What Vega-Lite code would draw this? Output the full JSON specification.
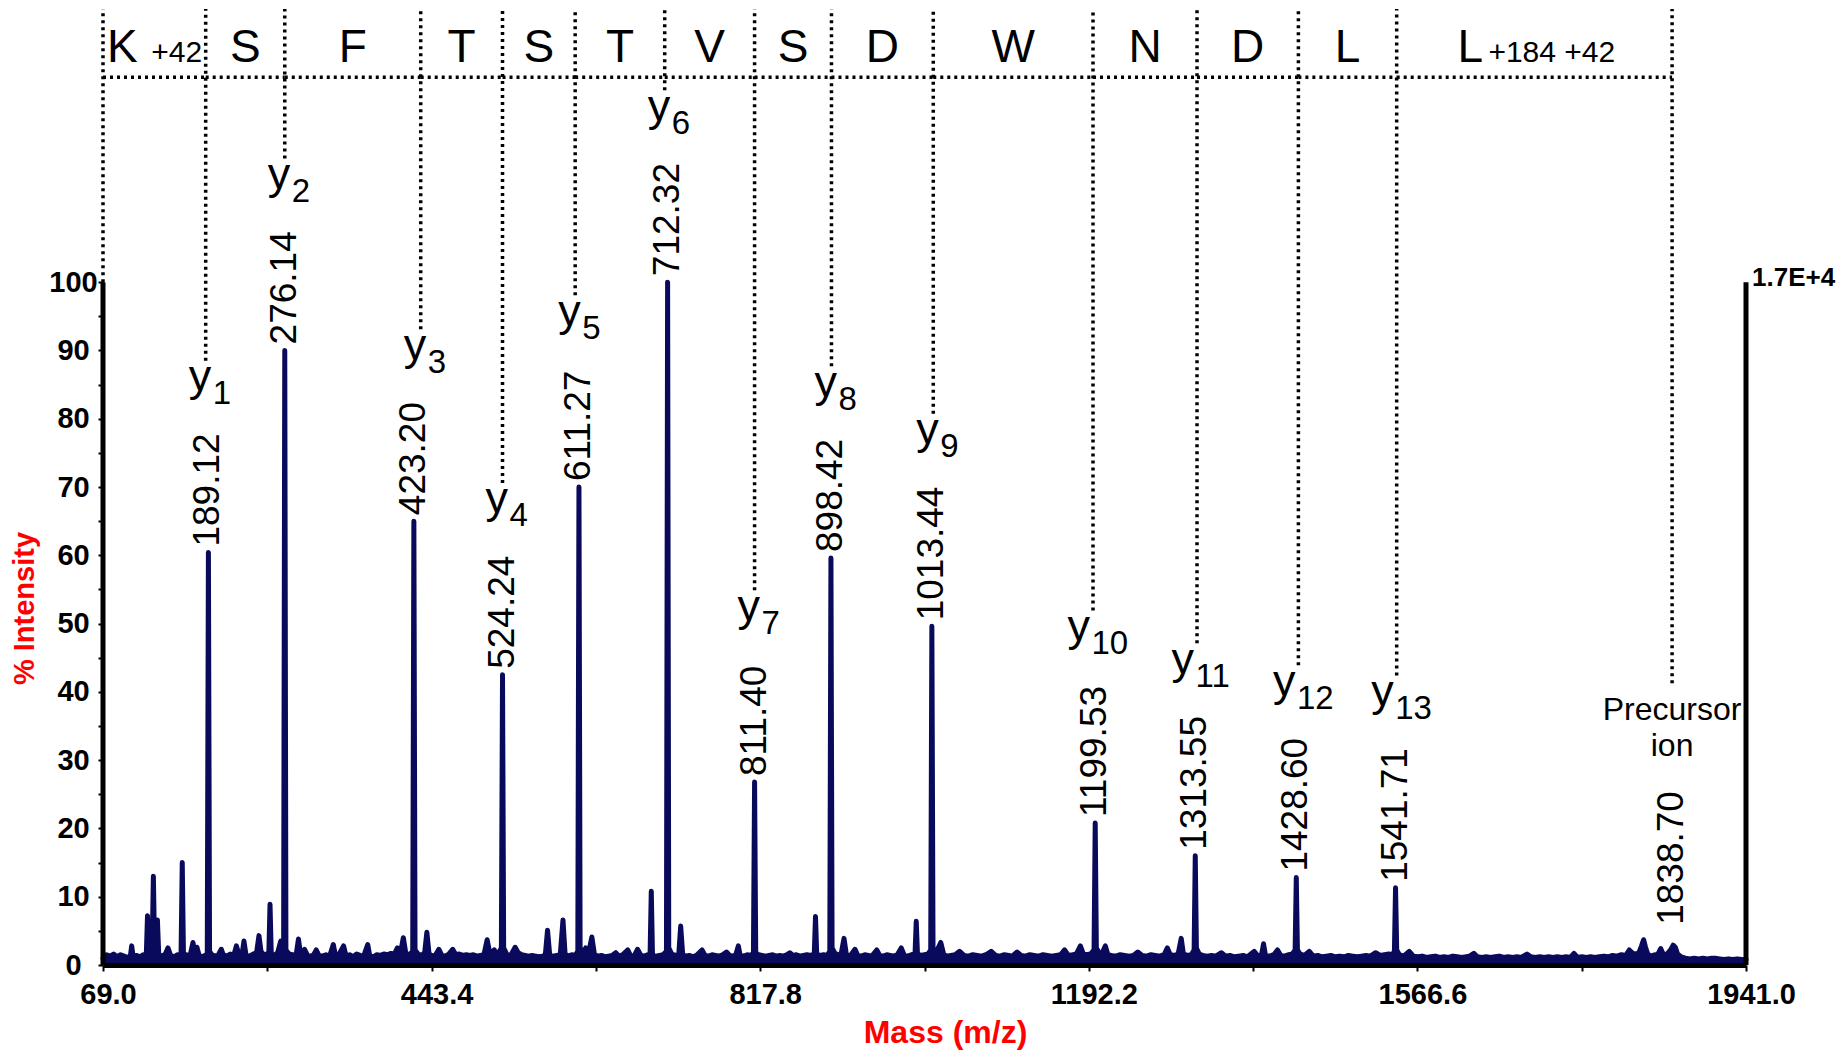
{
  "$schema": "https://vega.github.io/schema/vega-lite/v6.json",
  "width": 1643,
  "height": 956,
  "autosize": "none",
  "padding": {"left": 103, "top": 9, "right": 95, "bottom": 85},
  "background": "white",
  "config": {"view": {"stroke": null}, "font": "Liberation Sans"},
  "datasets": {
    "spec": [
      {"m":69,"i":1.0},{"m":73,"i":1.5},{"m":77,"i":1.3},{"m":81,"i":1.6},{"m":85,"i":1.2},{"m":89,"i":1.5},{"m":93,"i":1.3},{"m":97,"i":1.1},{"m":100.2,"i":1.3},{"m":101.7,"i":2.8},{"m":103.2,"i":1.3},{"m":107,"i":1.4},{"m":111,"i":1.2},{"m":115,"i":1.5},{"m":118.3,"i":1.3},{"m":119.7,"i":7.2},{"m":121.2,"i":1.6},{"m":124.9,"i":1.5},{"m":126.4,"i":13},{"m":127.8,"i":2.2},{"m":129.6,"i":1.9},{"m":131,"i":6.6},{"m":132.5,"i":1.5},{"m":136,"i":1.3},{"m":140,"i":1.6},{"m":143,"i":2.5},{"m":146,"i":1.4},{"m":150,"i":1.2},{"m":154,"i":1.5},{"m":157.9,"i":1.3},{"m":159.3,"i":15},{"m":160.7,"i":1.3},{"m":164,"i":1.5},{"m":168,"i":1.2},{"m":171.5,"i":3.3},{"m":173.8,"i":1.6},{"m":176,"i":2.6},{"m":178.5,"i":1.4},{"m":182,"i":1.2},{"m":185,"i":1.4},{"m":187.8,"i":1.6},{"m":189.1,"i":60.4},{"m":190.4,"i":2.0},{"m":193,"i":1.5},{"m":197,"i":1.3},{"m":200,"i":1.4},{"m":203.8,"i":2.3},{"m":206,"i":1.5},{"m":210,"i":1.3},{"m":214,"i":1.6},{"m":218,"i":1.4},{"m":221,"i":2.8},{"m":224,"i":1.5},{"m":227.5,"i":1.6},{"m":229.6,"i":3.5},{"m":232,"i":1.4},{"m":236,"i":1.3},{"m":240,"i":1.6},{"m":244,"i":1.8},{"m":246.7,"i":4.3},{"m":249,"i":2.0},{"m":252,"i":1.5},{"m":255,"i":1.6},{"m":257.9,"i":1.5},{"m":259.3,"i":8.9},{"m":260.7,"i":1.7},{"m":264,"i":1.4},{"m":268,"i":1.8},{"m":271.5,"i":3.5},{"m":273.5,"i":2.0},{"m":274.8,"i":2.2},{"m":276.1,"i":90},{"m":277.4,"i":2.2},{"m":281,"i":1.6},{"m":285,"i":1.5},{"m":289,"i":1.4},{"m":291.7,"i":3.8},{"m":294,"i":1.6},{"m":298.6,"i":2.3},{"m":302,"i":1.4},{"m":306,"i":1.3},{"m":309,"i":1.5},{"m":312,"i":2.2},{"m":315,"i":1.4},{"m":319,"i":1.3},{"m":323,"i":1.5},{"m":327,"i":1.2},{"m":331.4,"i":3.0},{"m":334,"i":1.3},{"m":338,"i":1.6},{"m":343.1,"i":2.8},{"m":346,"i":1.3},{"m":350,"i":1.5},{"m":354,"i":1.2},{"m":358,"i":1.6},{"m":362,"i":1.4},{"m":366,"i":1.3},{"m":370.6,"i":3.0},{"m":373,"i":1.3},{"m":377,"i":1.2},{"m":381,"i":1.5},{"m":385,"i":1.4},{"m":389,"i":1.6},{"m":393,"i":1.5},{"m":397,"i":1.7},{"m":401,"i":1.6},{"m":404.4,"i":2.5},{"m":408,"i":1.8},{"m":411.2,"i":4.0},{"m":414,"i":1.7},{"m":418,"i":1.5},{"m":421.9,"i":2.0},{"m":423.2,"i":65},{"m":424.5,"i":2.2},{"m":428,"i":1.6},{"m":432,"i":1.4},{"m":435.5,"i":1.8},{"m":438,"i":4.8},{"m":440.5,"i":1.6},{"m":445,"i":1.3},{"m":448,"i":1.5},{"m":451.7,"i":2.3},{"m":455,"i":1.4},{"m":459,"i":1.3},{"m":463,"i":1.6},{"m":467.4,"i":2.3},{"m":471,"i":1.5},{"m":475,"i":1.6},{"m":479,"i":1.4},{"m":483,"i":1.5},{"m":487,"i":1.4},{"m":491,"i":1.5},{"m":495,"i":1.3},{"m":499,"i":1.4},{"m":503,"i":1.5},{"m":506.7,"i":3.7},{"m":510,"i":1.5},{"m":514.8,"i":2.2},{"m":518,"i":1.4},{"m":522.9,"i":2.5},{"m":524.2,"i":42.5},{"m":525.5,"i":2.5},{"m":529,"i":1.6},{"m":533,"i":1.3},{"m":538.6,"i":2.6},{"m":542,"i":1.8},{"m":546,"i":1.5},{"m":550,"i":1.4},{"m":554,"i":1.3},{"m":558,"i":1.4},{"m":562,"i":1.3},{"m":566,"i":1.2},{"m":570,"i":1.3},{"m":573,"i":1.5},{"m":575.5,"i":5.1},{"m":578,"i":1.4},{"m":582,"i":1.3},{"m":586,"i":1.4},{"m":590,"i":1.5},{"m":593.1,"i":6.6},{"m":595.5,"i":1.6},{"m":599,"i":1.3},{"m":603,"i":1.5},{"m":607,"i":1.4},{"m":610,"i":2.0},{"m":611.3,"i":70},{"m":612.6,"i":2.5},{"m":616,"i":1.8},{"m":619,"i":2.5},{"m":622,"i":1.6},{"m":626,"i":4.1},{"m":629,"i":1.5},{"m":633,"i":1.3},{"m":637,"i":1.4},{"m":641,"i":1.2},{"m":645,"i":1.3},{"m":649,"i":1.4},{"m":653.2,"i":1.8},{"m":657,"i":1.3},{"m":661,"i":1.5},{"m":666.8,"i":2.2},{"m":670,"i":1.4},{"m":674,"i":1.3},{"m":678,"i":2.3},{"m":682,"i":1.4},{"m":686,"i":1.3},{"m":689.5,"i":1.5},{"m":692.3,"i":1.4},{"m":693.7,"i":10.8},{"m":695.1,"i":1.4},{"m":699,"i":1.3},{"m":703,"i":1.4},{"m":707,"i":1.5},{"m":711,"i":2.0},{"m":712.3,"i":100},{"m":713.6,"i":2.5},{"m":717,"i":1.6},{"m":721,"i":1.4},{"m":725,"i":1.5},{"m":727.2,"i":5.7},{"m":729.5,"i":1.5},{"m":733,"i":1.3},{"m":737,"i":1.4},{"m":741,"i":1.2},{"m":745,"i":1.4},{"m":751.5,"i":2.2},{"m":755,"i":1.4},{"m":759,"i":1.3},{"m":763,"i":1.5},{"m":767,"i":1.4},{"m":771,"i":1.3},{"m":775,"i":1.5},{"m":779.4,"i":1.9},{"m":783,"i":1.4},{"m":787,"i":1.3},{"m":790,"i":1.5},{"m":792.9,"i":2.8},{"m":795,"i":1.4},{"m":799,"i":1.3},{"m":803,"i":1.5},{"m":807,"i":1.4},{"m":810.1,"i":1.8},{"m":811.4,"i":26.8},{"m":812.7,"i":1.8},{"m":816,"i":1.5},{"m":820,"i":1.4},{"m":824,"i":1.3},{"m":828,"i":1.4},{"m":832,"i":1.5},{"m":836,"i":1.3},{"m":840,"i":1.4},{"m":844,"i":1.3},{"m":848,"i":1.5},{"m":851.5,"i":1.8},{"m":855,"i":1.4},{"m":859,"i":1.5},{"m":863,"i":1.3},{"m":867,"i":1.4},{"m":871,"i":1.5},{"m":875,"i":1.4},{"m":879.4,"i":1.6},{"m":880.8,"i":7.1},{"m":882.2,"i":1.6},{"m":886,"i":1.4},{"m":890,"i":1.5},{"m":894,"i":1.4},{"m":897.1,"i":2.0},{"m":898.4,"i":59.6},{"m":899.7,"i":2.5},{"m":903,"i":1.7},{"m":907,"i":1.5},{"m":910,"i":1.6},{"m":913.3,"i":3.9},{"m":916,"i":1.5},{"m":920,"i":1.3},{"m":925.8,"i":2.3},{"m":929,"i":1.4},{"m":933,"i":1.3},{"m":937,"i":1.5},{"m":941,"i":1.4},{"m":945,"i":1.3},{"m":950.6,"i":2.2},{"m":954,"i":1.4},{"m":958,"i":1.3},{"m":962,"i":1.5},{"m":966,"i":1.4},{"m":970,"i":1.3},{"m":974,"i":1.5},{"m":978.5,"i":2.5},{"m":982,"i":1.4},{"m":986,"i":1.3},{"m":990,"i":1.5},{"m":994.2,"i":1.6},{"m":995.6,"i":6.4},{"m":997,"i":1.6},{"m":1001,"i":1.4},{"m":1005,"i":1.5},{"m":1009,"i":1.6},{"m":1012.1,"i":2.2},{"m":1013.4,"i":49.6},{"m":1014.7,"i":2.5},{"m":1018,"i":1.8},{"m":1023.5,"i":3.3},{"m":1027,"i":1.5},{"m":1031,"i":1.3},{"m":1035,"i":1.4},{"m":1040,"i":1.5},{"m":1045,"i":2.0},{"m":1050,"i":1.4},{"m":1055,"i":1.3},{"m":1060,"i":1.5},{"m":1065,"i":1.4},{"m":1070,"i":1.3},{"m":1075,"i":1.5},{"m":1081,"i":2.0},{"m":1086,"i":1.4},{"m":1091,"i":1.3},{"m":1096,"i":1.5},{"m":1101,"i":1.4},{"m":1105,"i":1.3},{"m":1110.6,"i":1.9},{"m":1115,"i":1.4},{"m":1120,"i":1.3},{"m":1125,"i":1.5},{"m":1130,"i":1.4},{"m":1135,"i":1.3},{"m":1140,"i":1.5},{"m":1145,"i":1.4},{"m":1150,"i":1.3},{"m":1155,"i":1.4},{"m":1160,"i":1.5},{"m":1164.6,"i":2.2},{"m":1169,"i":1.4},{"m":1174,"i":1.5},{"m":1178,"i":1.6},{"m":1182.6,"i":2.8},{"m":1186,"i":1.6},{"m":1190,"i":1.5},{"m":1194,"i":1.6},{"m":1198.2,"i":2.2},{"m":1199.5,"i":20.8},{"m":1200.8,"i":2.5},{"m":1204,"i":1.8},{"m":1207,"i":1.6},{"m":1211,"i":2.8},{"m":1214,"i":1.5},{"m":1218,"i":1.4},{"m":1223,"i":1.3},{"m":1228,"i":1.5},{"m":1233,"i":1.4},{"m":1238,"i":1.3},{"m":1243,"i":1.4},{"m":1248,"i":1.9},{"m":1253,"i":1.4},{"m":1258,"i":1.3},{"m":1263,"i":1.5},{"m":1268,"i":1.4},{"m":1273,"i":1.3},{"m":1278,"i":1.5},{"m":1281.7,"i":2.5},{"m":1285,"i":1.5},{"m":1290,"i":1.4},{"m":1294,"i":1.6},{"m":1297.5,"i":3.9},{"m":1300,"i":1.6},{"m":1305,"i":1.4},{"m":1309,"i":1.5},{"m":1312.2,"i":2.2},{"m":1313.5,"i":16},{"m":1314.8,"i":2.5},{"m":1318,"i":1.6},{"m":1322,"i":1.4},{"m":1327,"i":1.3},{"m":1332,"i":1.4},{"m":1337,"i":1.3},{"m":1343.3,"i":1.8},{"m":1348,"i":1.3},{"m":1353,"i":1.4},{"m":1358,"i":1.2},{"m":1363,"i":1.3},{"m":1368,"i":1.4},{"m":1373,"i":1.2},{"m":1380.6,"i":2.0},{"m":1385,"i":1.3},{"m":1389,"i":1.5},{"m":1391.3,"i":3.1},{"m":1393.5,"i":1.4},{"m":1398,"i":1.3},{"m":1403,"i":1.5},{"m":1407.2,"i":2.2},{"m":1411,"i":1.4},{"m":1415,"i":1.3},{"m":1420,"i":1.5},{"m":1424,"i":1.6},{"m":1427.3,"i":2.2},{"m":1428.6,"i":12.8},{"m":1429.9,"i":2.2},{"m":1433,"i":1.6},{"m":1438,"i":1.4},{"m":1443.4,"i":2.0},{"m":1448,"i":1.3},{"m":1453,"i":1.4},{"m":1458,"i":1.2},{"m":1463,"i":1.3},{"m":1468,"i":1.4},{"m":1473,"i":1.2},{"m":1478,"i":1.3},{"m":1483,"i":1.2},{"m":1488,"i":1.4},{"m":1493,"i":1.3},{"m":1498,"i":1.2},{"m":1503,"i":1.3},{"m":1508,"i":1.4},{"m":1513,"i":1.3},{"m":1519,"i":1.8},{"m":1524,"i":1.4},{"m":1529,"i":1.5},{"m":1534,"i":1.6},{"m":1538,"i":1.5},{"m":1540.4,"i":2.0},{"m":1541.7,"i":11.3},{"m":1543,"i":2.2},{"m":1546,"i":1.5},{"m":1551,"i":1.3},{"m":1557.3,"i":2.0},{"m":1562,"i":1.3},{"m":1567,"i":1.2},{"m":1572,"i":1.3},{"m":1577,"i":1.1},{"m":1582,"i":1.2},{"m":1587,"i":1.3},{"m":1592,"i":1.1},{"m":1597,"i":1.2},{"m":1602,"i":1.1},{"m":1607,"i":1.3},{"m":1612,"i":1.2},{"m":1617,"i":1.1},{"m":1622,"i":1.2},{"m":1626,"i":1.3},{"m":1630.9,"i":1.7},{"m":1635,"i":1.2},{"m":1640,"i":1.1},{"m":1645,"i":1.2},{"m":1650,"i":1.1},{"m":1655,"i":1.2},{"m":1660,"i":1.3},{"m":1665,"i":1.1},{"m":1670,"i":1.2},{"m":1675,"i":1.1},{"m":1680,"i":1.2},{"m":1685,"i":1.1},{"m":1691.4,"i":1.6},{"m":1696,"i":1.2},{"m":1701,"i":1.1},{"m":1706,"i":1.2},{"m":1711,"i":1.1},{"m":1716,"i":1.2},{"m":1721,"i":1.1},{"m":1726,"i":1.2},{"m":1731,"i":1.1},{"m":1736,"i":1.2},{"m":1741,"i":1.1},{"m":1745,"i":1.7},{"m":1749,"i":1.1},{"m":1754,"i":1.2},{"m":1759,"i":1.1},{"m":1764,"i":1.2},{"m":1769,"i":1.1},{"m":1774,"i":1.2},{"m":1779,"i":1.3},{"m":1784,"i":1.2},{"m":1789,"i":1.4},{"m":1794,"i":1.3},{"m":1799,"i":1.5},{"m":1804,"i":1.4},{"m":1808,"i":2.2},{"m":1812,"i":1.7},{"m":1816,"i":1.6},{"m":1819,"i":1.8},{"m":1822,"i":2.8},{"m":1824.3,"i":3.7},{"m":1826.5,"i":2.6},{"m":1829,"i":1.6},{"m":1833,"i":1.3},{"m":1837,"i":1.5},{"m":1840,"i":1.4},{"m":1843.8,"i":2.4},{"m":1847,"i":1.5},{"m":1851,"i":1.6},{"m":1855,"i":2.2},{"m":1858,"i":2.9},{"m":1860.5,"i":2.6},{"m":1863,"i":1.6},{"m":1867,"i":1.2},{"m":1872,"i":1.0},{"m":1877,"i":0.9},{"m":1882,"i":1.0},{"m":1887,"i":0.9},{"m":1892,"i":1.0},{"m":1897,"i":0.9},{"m":1902,"i":1.0},{"m":1906,"i":1.0},{"m":1911,"i":0.9},{"m":1916,"i":0.8},{"m":1921,"i":0.9},{"m":1926,"i":0.8},{"m":1931,"i":0.9},{"m":1936,"i":0.8},{"m":1941,"i":0.8}
    ],
    "ions": [
      {"ion":"1","type":"y","cut":186,"m":189.12,"i":60.4,"label":"189.12","res":"K","mod":"+42"},
      {"ion":"2","type":"y","cut":276.1,"m":276.14,"i":90,"label":"276.14","res":"S"},
      {"ion":"3","type":"y","cut":431,"m":423.2,"i":65,"label":"423.20","res":"F"},
      {"ion":"4","type":"y","cut":524.2,"m":524.24,"i":42.5,"label":"524.24","res":"T"},
      {"ion":"5","type":"y","cut":607,"m":611.27,"i":70,"label":"611.27","res":"S"},
      {"ion":"6","type":"y","cut":709,"m":712.32,"i":100,"label":"712.32","res":"T"},
      {"ion":"7","type":"y","cut":811.4,"m":811.4,"i":26.8,"label":"811.40","res":"V"},
      {"ion":"8","type":"y","cut":899,"m":898.42,"i":59.6,"label":"898.42","res":"S"},
      {"ion":"9","type":"y","cut":1015,"m":1013.44,"i":49.6,"label":"1013.44","res":"D"},
      {"ion":"10","type":"y","cut":1197,"m":1199.53,"i":20.8,"label":"1199.53","res":"W"},
      {"ion":"11","type":"y","cut":1315.5,"m":1313.55,"i":16,"label":"1313.55","res":"N"},
      {"ion":"12","type":"y","cut":1431,"m":1428.6,"i":12.8,"label":"1428.60","res":"D"},
      {"ion":"13","type":"y","cut":1543,"m":1541.71,"i":11.3,"label":"1541.71","res":"L"},
      {"ion":"","type":"p","cut":1856.8,"m":1856.8,"i":5,"label":"1838.70","res":"L","mod":"+184 +42","l1":"Precursor","l2":"ion"}
    ]
  },
  "layer": [
    {
      "data": {"name": "spec"},
      "mark": {"type": "area", "color": "#0a0a5c", "opacity": 1, "line": {"color": "#0a0a5c", "strokeWidth": 5, "strokeJoin": "round", "strokeCap": "round"}},
      "encoding": {
        "x": {
          "field": "m", "type": "quantitative",
          "scale": {"domain": [69, 1941], "nice": false, "zero": false},
          "axis": {
            "values": [69, 256.2, 443.4, 630.6, 817.8, 1005, 1192.2, 1379.4, 1566.6, 1753.8, 1941],
            "labelExpr": "indexof([69, 443.4, 817.8, 1192.2, 1566.6, 1941], datum.value) >= 0 ? format(datum.value, '.1f') : ''",
            "domainColor": "black", "domainWidth": 5,
            "tickColor": "black", "tickWidth": 2, "tickSize": 6,
            "labelFont": "Liberation Sans", "labelFontWeight": "bold", "labelFontSize": 29, "labelColor": "black",
            "labelPadding": 9, "labelFlush": false, "labelOverlap": false, "labelBound": false, "labelOffset": 5,
            "grid": false, "zindex": 1,
            "title": "Mass (m/z)", "titleFont": "Liberation Sans", "titleFontSize": 32, "titleFontWeight": "bold", "titleColor": "#ff0000",
            "titleX": 842, "titleY": 77, "titleBaseline": "alphabetic", "titleAlign": "center"
          }
        },
        "y": {
          "field": "i", "type": "quantitative",
          "scale": {"domain": [0, 140], "nice": false, "zero": true},
          "axis": {
            "values": [0, 5, 10, 15, 20, 25, 30, 35, 40, 45, 50, 55, 60, 65, 70, 75, 80, 85, 90, 95, 100],
            "labelExpr": "datum.value % 10 == 0 ? datum.label : ''",
            "domain": false,
            "tickColor": "black", "tickWidth": 2, "tickSize": 5,
            "labelFont": "Liberation Sans", "labelFontWeight": "bold", "labelFontSize": 29, "labelColor": "black",
            "labelAlign": "center", "labelPadding": 25, "labelFlush": false, "labelOverlap": false, "labelBound": false,
            "grid": false, "zindex": 1,
            "title": "% Intensity", "titleFont": "Liberation Sans", "titleFontSize": 29, "titleFontWeight": "bold", "titleColor": "#ff0000",
            "titleX": -79, "titleY": 599, "titleAngle": 270, "titleBaseline": "middle", "titleAlign": "center"
          }
        }
      }
    },
    {
      "data": {"name": "ions"},
      "transform": [
        {"window": [{"op": "lag", "field": "cut", "as": "prev"}], "sort": [{"field": "cut", "order": "ascending"}]},
        {"calculate": "datum.prev == null ? 69 : datum.prev", "as": "lo"},
        {"calculate": "(datum.lo + datum.cut) / 2", "as": "mid"},
        {"calculate": "datum.i + (6 + (0.556 * (length(datum.label) - 1) + 0.278) * 37) / 6.829", "as": "top"},
        {"calculate": "datum.top + (datum.type == 'p' ? 5.1 : 6.2)", "as": "base"},
        {"calculate": "datum.base + (datum.type == 'p' ? 10.7 : 4.45)", "as": "end"},
        {"calculate": "datum.cut + (length(datum.ion) == 1 ? 5.5 : -3) / 0.8777", "as": "yx"}
      ],
      "layer": [
        {
          "mark": {"type": "rule", "color": "black", "strokeWidth": 3.5, "strokeDash": [3, 4]},
          "encoding": {
            "x": {"field": "cut", "type": "quantitative"},
            "y": {"field": "end", "type": "quantitative"},
            "y2": {"datum": 140}
          }
        },
        {
          "mark": {"type": "rule", "color": "black", "strokeWidth": 3.5, "strokeDash": [3, 4]},
          "encoding": {
            "x": {"field": "lo", "type": "quantitative"},
            "x2": {"field": "cut"},
            "y": {"datum": 130, "type": "quantitative"}
          }
        },
        {
          "mark": {"type": "text", "angle": 270, "align": "left", "baseline": "middle", "dx": 6, "fontSize": 37, "font": "Liberation Sans", "color": "black"},
          "encoding": {
            "x": {"field": "m", "type": "quantitative"},
            "y": {"field": "i", "type": "quantitative"},
            "text": {"field": "label"}
          }
        },
        {
          "transform": [{"filter": "datum.type == 'y'"}],
          "mark": {"type": "text", "text": "y", "align": "right", "baseline": "alphabetic", "fontSize": 45, "font": "Liberation Sans", "color": "black"},
          "encoding": {
            "x": {"field": "yx", "type": "quantitative"},
            "y": {"field": "base", "type": "quantitative"}
          }
        },
        {
          "transform": [{"filter": "datum.type == 'y'"}],
          "mark": {"type": "text", "align": "left", "baseline": "alphabetic", "dx": 1.5, "dy": 13, "fontSize": 33, "font": "Liberation Sans", "color": "black"},
          "encoding": {
            "x": {"field": "yx", "type": "quantitative"},
            "y": {"field": "base", "type": "quantitative"},
            "text": {"field": "ion"}
          }
        },
        {
          "transform": [{"filter": "datum.type == 'p'"}],
          "mark": {"type": "text", "align": "center", "baseline": "alphabetic", "dy": -36, "fontSize": 32, "font": "Liberation Sans", "color": "black"},
          "encoding": {
            "x": {"field": "cut", "type": "quantitative"},
            "y": {"field": "base", "type": "quantitative"},
            "text": {"field": "l1"}
          }
        },
        {
          "transform": [{"filter": "datum.type == 'p'"}],
          "mark": {"type": "text", "align": "center", "baseline": "alphabetic", "fontSize": 32, "font": "Liberation Sans", "color": "black"},
          "encoding": {
            "x": {"field": "cut", "type": "quantitative"},
            "y": {"field": "base", "type": "quantitative"},
            "text": {"field": "l2"}
          }
        },
        {
          "transform": [{"filter": "!datum.mod"}],
          "mark": {"type": "text", "align": "center", "baseline": "alphabetic", "fontSize": 46, "font": "Liberation Sans", "color": "black"},
          "encoding": {
            "x": {"field": "mid", "type": "quantitative"},
            "y": {"datum": 132.2, "type": "quantitative"},
            "text": {"field": "res"}
          }
        },
        {
          "transform": [{"filter": "datum.ion == '1'"}],
          "mark": {"type": "text", "align": "center", "baseline": "alphabetic", "dx": -32, "fontSize": 46, "font": "Liberation Sans", "color": "black"},
          "encoding": {
            "x": {"field": "mid", "type": "quantitative"},
            "y": {"datum": 132.2, "type": "quantitative"},
            "text": {"field": "res"}
          }
        },
        {
          "transform": [{"filter": "datum.ion == '1'"}],
          "mark": {"type": "text", "align": "left", "baseline": "alphabetic", "dx": -3, "fontSize": 30, "font": "Liberation Sans", "color": "black"},
          "encoding": {
            "x": {"field": "mid", "type": "quantitative"},
            "y": {"datum": 132.2, "type": "quantitative"},
            "text": {"field": "mod"}
          }
        },
        {
          "transform": [{"filter": "datum.type == 'p'"}],
          "mark": {"type": "text", "align": "center", "baseline": "alphabetic", "dx": -64, "fontSize": 46, "font": "Liberation Sans", "color": "black"},
          "encoding": {
            "x": {"field": "mid", "type": "quantitative"},
            "y": {"datum": 132.2, "type": "quantitative"},
            "text": {"field": "res"}
          }
        },
        {
          "transform": [{"filter": "datum.type == 'p'"}],
          "mark": {"type": "text", "align": "left", "baseline": "alphabetic", "dx": -46, "fontSize": 30, "font": "Liberation Sans", "color": "black"},
          "encoding": {
            "x": {"field": "mid", "type": "quantitative"},
            "y": {"datum": 132.2, "type": "quantitative"},
            "text": {"field": "mod"}
          }
        }
      ]
    },
    {
      "data": {"values": [{}]},
      "layer": [
        {
          "mark": {"type": "rule", "color": "black", "strokeWidth": 5},
          "encoding": {
            "x": {"datum": 69, "type": "quantitative"},
            "y": {"datum": 0, "type": "quantitative"},
            "y2": {"datum": 100}
          }
        },
        {
          "mark": {"type": "rule", "color": "black", "strokeWidth": 5},
          "encoding": {
            "x": {"datum": 1941, "type": "quantitative"},
            "y": {"datum": 0, "type": "quantitative"},
            "y2": {"datum": 100}
          }
        },
        {
          "mark": {"type": "rule", "color": "black", "strokeWidth": 3.5, "strokeDash": [3, 4]},
          "encoding": {
            "x": {"datum": 69, "type": "quantitative"},
            "y": {"datum": 100, "type": "quantitative"},
            "y2": {"datum": 140}
          }
        },
        {
          "mark": {"type": "text", "text": "1.7E+4", "align": "left", "baseline": "middle", "dx": 6, "dy": -4, "fontSize": 26, "fontWeight": "bold", "font": "Liberation Sans", "color": "black"},
          "encoding": {
            "x": {"datum": 1941, "type": "quantitative"},
            "y": {"datum": 100, "type": "quantitative"}
          }
        }
      ]
    }
  ]
}
